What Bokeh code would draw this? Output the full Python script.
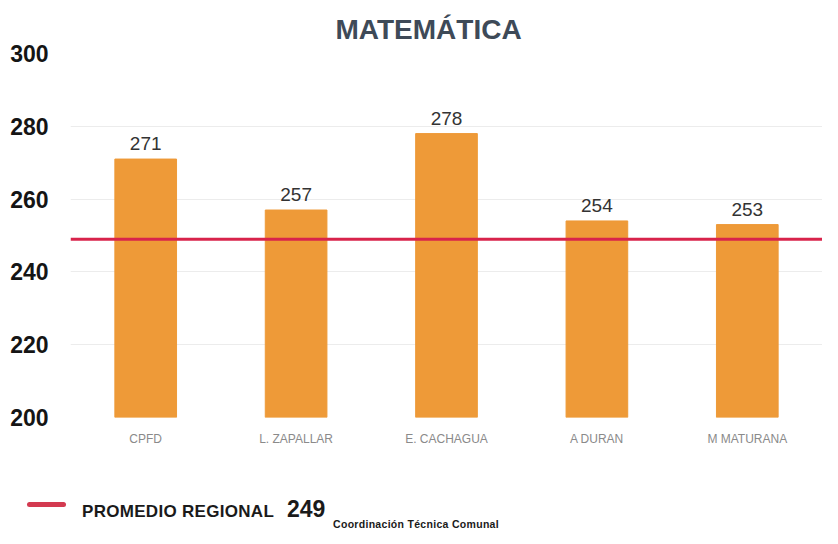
from bokeh.plotting import figure
from bokeh.layouts import column
from bokeh.models import ColumnDataSource, Span, FixedTicker, Range1d, Title, Div
from bokeh.core.properties import value
from bokeh.embed import file_html
from bokeh.resources import INLINE

schools = ["CPFD", "L. ZAPALLAR", "E. CACHAGUA", "A DURAN", "M MATURANA"]
scores = [271, 257, 278, 254, 253]
regional_avg = 249
y_ticks = [200, 220, 240, 260, 280, 300]
title_text = "MATEMÁTICA"
legend_text = "PROMEDIO REGIONAL"
footer_text = "Coordinación Técnica Comunal"

BAR = "#EE9A38"
RED = "#D8234B"
FONT = "Liberation Sans"
W = 822
LEFT = 70

src = ColumnDataSource(dict(x=schools, top=scores, lbl=[str(v) for v in scores]))

p = figure(x_range=schools, y_range=Range1d(200, 300), width=W, height=460,
           output_backend="svg", toolbar_location=None, title=None,
           min_border_left=LEFT, min_border_right=0, min_border_top=53, min_border_bottom=43)
p.outline_line_color = None
p.background_fill_color = "white"
p.border_fill_color = "white"

p.vbar(x="x", top="top", bottom=200, width=0.41, source=src, color=BAR)
p.text(x="x", y="top", text="lbl", source=src, text_align="center", text_baseline="bottom",
       y_offset=-9, text_font_size="19px", text_color="#333333", text_font=value(FONT))

p.add_layout(Span(location=regional_avg, dimension="width", line_color=RED, line_width=3))

p.yaxis.ticker = FixedTicker(ticks=y_ticks)
p.yaxis.axis_line_color = None
p.yaxis.major_tick_line_color = None
p.yaxis.minor_tick_line_color = None
p.yaxis.major_label_text_font = FONT
p.yaxis.major_label_text_font_style = "bold"
p.yaxis.major_label_text_font_size = "23px"
p.yaxis.major_label_text_color = "#151515"
p.yaxis.major_label_standoff = 16

p.xaxis.axis_line_color = None
p.xaxis.major_tick_line_color = None
p.xaxis.major_label_text_font = FONT
p.xaxis.major_label_text_font_size = "12px"
p.xaxis.major_label_text_color = "#8a8a8a"
p.xaxis.major_label_standoff = 8

p.xgrid.grid_line_color = None
p.ygrid.grid_line_color = "#ececec"
p.ygrid.ticker = FixedTicker(ticks=y_ticks)

p.add_layout(Title(text=title_text, align="left", offset=265, text_font=FONT,
                   text_font_style="bold", text_font_size="28px", text_color="#3E4A58",
                   standoff=18), "above")

# bottom strip: legend and footer
html = f"""
<div style="position:relative;width:{W}px;height:68px;font-family:'{FONT}';font-weight:bold;color:#1a1a1a;">
  <div style="position:absolute;left:27px;top:42px;width:39px;height:5px;border-radius:3px;background:#D33A50;"></div>
  <div style="position:absolute;left:82px;top:42px;font-size:17px;letter-spacing:0.3px;line-height:20px;white-space:nowrap;">{legend_text}</div>
  <div style="position:absolute;left:287px;top:36px;font-size:23px;line-height:26px;white-space:nowrap;">{regional_avg}</div>
  <div style="position:absolute;left:316px;top:59px;width:200px;text-align:center;font-size:10.5px;letter-spacing:0.3px;line-height:11px;white-space:nowrap;">{footer_text}</div>
</div>
"""
legend_div = Div(text=html, width=W, height=68, margin=(0, 0, 0, 0))

layout = column(p, legend_div, spacing=0)
open("out.html", "w").write(file_html(layout, INLINE))
